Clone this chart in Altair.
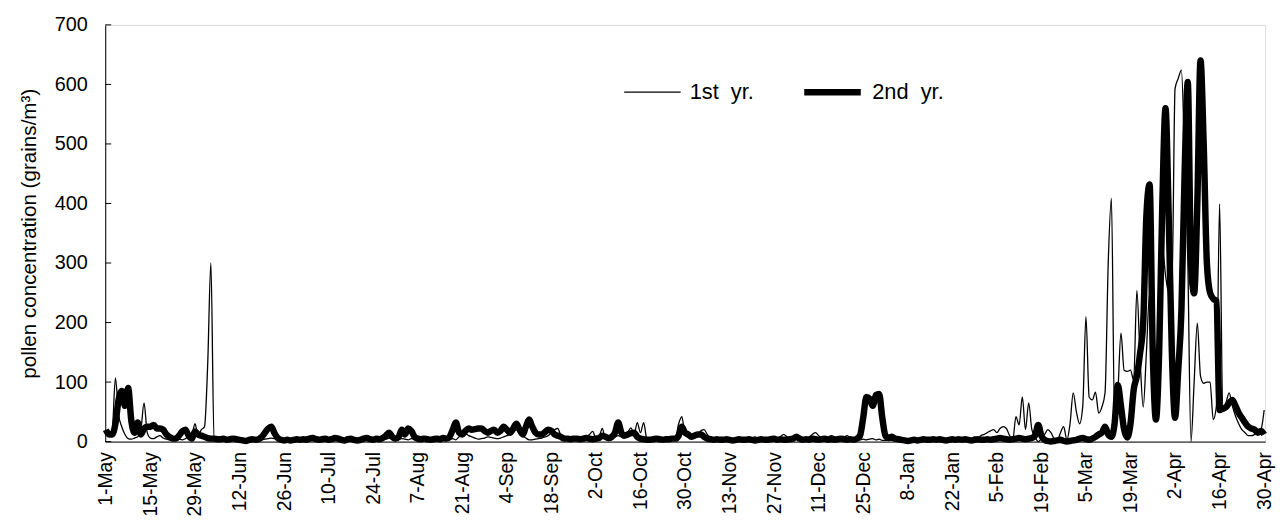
import json
import altair as alt
import pandas as pd

# ---- tick labels ----
x_labels = ["1-May", "15-May", "29-May", "12-Jun", "26-Jun", "10-Jul", "24-Jul",
            "7-Aug", "21-Aug", "4-Sep", "18-Sep", "2-Oct", "16-Oct", "30-Oct",
            "13-Nov", "27-Nov", "11-Dec", "25-Dec", "8-Jan", "22-Jan", "5-Feb",
            "19-Feb", "5-Mar", "19-Mar", "2-Apr", "16-Apr", "30-Apr"]
x_label_days = [0, 14, 28, 42, 56, 70, 84, 98, 112, 126, 140, 154, 168, 182,
                196, 210, 224, 238, 252, 266, 280, 294, 308, 322, 336, 350, 364]
y_ticks = [0, 100, 200, 300, 400, 500, 600, 700]
series_names = ["1st\u00a0 yr.", "2nd\u00a0 yr."]

# ---- 1st year (thin line), daily values by month ----
may1 = [18, 15, 20, 107, 45, 25, 12, 5, 4, 6, 8, 20, 65, 15, 6, 5, 8, 10, 6, 4, 3, 3, 5, 4, 3, 5, 8, 10, 30, 10, 20]
jun1 = [25, 130, 300, 3, 3, 4, 3, 2, 3, 4, 3, 2, 3, 2, 1, 2, 3, 2, 3, 4, 5, 6, 5, 3, 2, 3, 2, 3, 2, 3]
jul1 = [3, 5, 8, 4, 3, 2, 3, 4, 3, 2, 3, 4, 3, 2, 3, 4, 3, 2, 3, 4, 3, 5, 4, 3, 4, 3, 5, 4, 6, 5, 4]
aug1 = [4, 5, 4, 3, 5, 4, 3, 2, 3, 4, 3, 2, 3, 4, 5, 4, 3, 5, 3, 8, 10, 13, 10, 8, 6, 4, 5, 6, 8, 7, 6]
sep1 = [5, 6, 8, 10, 12, 15, 20, 15, 10, 6, 3, 3, 4, 5, 6, 8, 10, 15, 20, 22, 10, 5, 4, 3, 4, 3, 4, 5, 8, 12]
oct1 = [17, 5, 8, 22, 5, 4, 6, 8, 10, 8, 6, 15, 23, 12, 32, 15, 32, 5, 3, 3, 4, 3, 2, 3, 3, 4, 6, 30, 42, 12, 8]
nov1 = [6, 8, 12, 18, 20, 12, 5, 3, 2, 3, 2, 3, 2, 3, 2, 3, 2, 3, 4, 6, 8, 5, 3, 2, 3, 4, 3, 5, 8, 12]
dec1 = [8, 5, 4, 5, 3, 4, 5, 8, 12, 15, 10, 6, 5, 8, 10, 8, 6, 5, 8, 10, 6, 3, 2, 3, 4, 3, 4, 5, 3, 4, 2]
jan1 = [2, 3, 2, 1, 2, 1, 2, 3, 2, 1, 2, 1, 2, 3, 2, 1, 2, 3, 2, 3, 2, 1, 2, 3, 2, 3, 4, 5, 8, 6, 10]
feb1 = [12, 15, 18, 20, 15, 22, 25, 22, 10, 3, 42, 28, 75, 20, 65, 20, 8, 0, 5, 12, 20, 15, 5, 2, 15, 25, 3, 30]
mar1 = [82, 50, 30, 60, 210, 75, 70, 83, 48, 58, 82, 300, 409, 37, 80, 182, 120, 118, 120, 103,
        254, 140, 58, 150, 249, 150, 55, 150, 326, 280, 250]
apr1 = [249, 593, 610, 624, 480, 304, 0, 100, 199, 110, 98, 100, 100, 37, 60, 399, 53, 65, 82, 60,
        43, 30, 20, 15, 10, 10, 12, 15, 20, 53]

# ---- 2nd year (thick line), daily values by month ----
may2 = [20, 12, 12, 30, 70, 85, 60, 90, 35, 15, 32, 12, 22, 25, 25, 28, 22, 22, 20, 12, 8, 5, 5, 10, 17, 20, 10, 5, 17, 12, 10]
jun2 = [8, 6, 5, 5, 4, 4, 5, 3, 4, 5, 4, 3, 2, 1, 3, 4, 3, 4, 8, 15, 22, 25, 14, 6, 3, 2, 3, 2, 3, 4]
jul2 = [3, 4, 3, 5, 6, 4, 3, 4, 5, 3, 4, 6, 5, 3, 2, 4, 5, 3, 2, 3, 5, 6, 4, 3, 5, 4, 6, 10, 15, 8, 5]
aug2 = [8, 20, 12, 22, 18, 8, 5, 4, 5, 4, 3, 4, 5, 4, 6, 5, 8, 20, 32, 15, 12, 18, 22, 20, 21, 22, 22, 18, 15, 18, 20]
sep2 = [15, 18, 25, 20, 15, 22, 30, 20, 12, 25, 37, 25, 15, 12, 12, 16, 20, 18, 12, 10, 8, 5, 5, 4, 5, 5, 4, 5, 6, 5]
oct2 = [4, 5, 6, 10, 8, 6, 8, 15, 32, 15, 10, 12, 14, 15, 8, 5, 4, 3, 3, 4, 5, 4, 3, 4, 4, 5, 5, 10, 25, 15, 12]
nov2 = [8, 10, 12, 12, 8, 5, 4, 3, 4, 3, 3, 4, 3, 2, 3, 4, 3, 3, 4, 3, 2, 3, 4, 3, 3, 4, 5, 3, 4, 3]
dec2 = [3, 4, 5, 8, 5, 3, 4, 3, 5, 4, 3, 4, 5, 3, 4, 3, 4, 5, 4, 3, 4, 3, 5, 10, 40, 75, 72, 60, 78, 80, 40]
jan2 = [10, 6, 8, 5, 4, 3, 2, 1, 2, 3, 2, 3, 4, 3, 3, 4, 3, 4, 3, 2, 3, 4, 3, 4, 3, 4, 3, 2, 3, 4, 3]
feb2 = [3, 4, 3, 4, 5, 6, 5, 4, 3, 4, 5, 6, 5, 4, 5, 6, 10, 28, 10, 3, 1, 0, 1, 2, 3, 1, 0, 1]
mar2 = [2, 3, 5, 6, 4, 3, 5, 8, 12, 15, 25, 12, 8, 30, 95, 60, 20, 7, 30, 87,
        110, 148, 200, 380, 432, 150, 37, 150, 400, 560, 380]
apr2 = [150, 40, 120, 220, 450, 604, 300, 249, 400, 640, 500, 300, 250, 240, 236, 53, 55, 58, 65, 70,
        60, 48, 40, 32, 25, 22, 20, 15, 18, 12]

year1 = may1 + jun1 + jul1 + aug1 + sep1 + oct1 + nov1 + dec1 + jan1 + feb1 + mar1 + apr1
year2 = may2 + jun2 + jul2 + aug2 + sep2 + oct2 + nov2 + dec2 + jan2 + feb2 + mar2 + apr2
assert len(year1) == 365 and len(year2) == 365, (len(year1), len(year2))

days = list(range(len(year1)))
df = pd.DataFrame({
    "day": days + days,
    "value": year1 + year2,
    "series": [series_names[0]] * len(year1) + [series_names[1]] * len(year2),
})
ticks_df = pd.DataFrame({"value": y_ticks})

label_lookup = dict(zip(x_label_days, x_labels))
label_expr = json.dumps({str(k): v for k, v in label_lookup.items()}) + "[toString(datum.value)]"

FONT = "Liberation Sans"

y_axis = alt.Axis(values=y_ticks, ticks=False, grid=False, labelFontSize=20,
                  labelPadding=18, labelColor="black", domainColor="black",
                  title="pollen concentration (grains/m³)", titleFontSize=20.8,
                  titleFontWeight="normal", titleColor="black", titlePadding=15)

lines = alt.Chart(df).mark_line(color="black", interpolate="monotone").encode(
    x=alt.X("day:Q",
            scale=alt.Scale(domain=[-0.2, 364.3], nice=False, zero=False),
            axis=alt.Axis(values=x_label_days, labelExpr=label_expr, labelAngle=270,
                          labelAlign="right", labelBaseline="middle", labelPadding=10,
                          ticks=False, grid=False, title=None, labelFontSize=19.5,
                          labelColor="black", domainColor="black", labelOverlap=False,
                          labelFlush=False)),
    y=alt.Y("value:Q", scale=alt.Scale(domain=[0, 700], nice=False), axis=y_axis),
    strokeWidth=alt.StrokeWidth("series:N",
                                scale=alt.Scale(domain=series_names, range=[1.3, 6.5]),
                                legend=alt.Legend(title=None, orient="none", legendX=522, legendY=36,
                                                  direction="horizontal", symbolType="stroke",
                                                  symbolSize=3249, symbolStrokeColor="black",
                                                  labelFontSize=22, labelColor="black",
                                                  labelOffset=8, columnPadding=37, padding=0,
                                                  labelLimit=300)),
)

yticks = alt.Chart(ticks_df).mark_rule(color="black", strokeWidth=1).encode(
    y=alt.Y("value:Q", axis=y_axis),
    x=alt.value(0),
    x2=alt.value(6),
)

chart = alt.layer(lines, yticks).properties(
    width=1169, height=420,
    padding={"left": 10, "top": 5, "right": 0, "bottom": 0},
).configure_view(stroke=None).configure(font=FONT)

chart.save("out.html", embed_options={"renderer": "svg", "actions": False})
